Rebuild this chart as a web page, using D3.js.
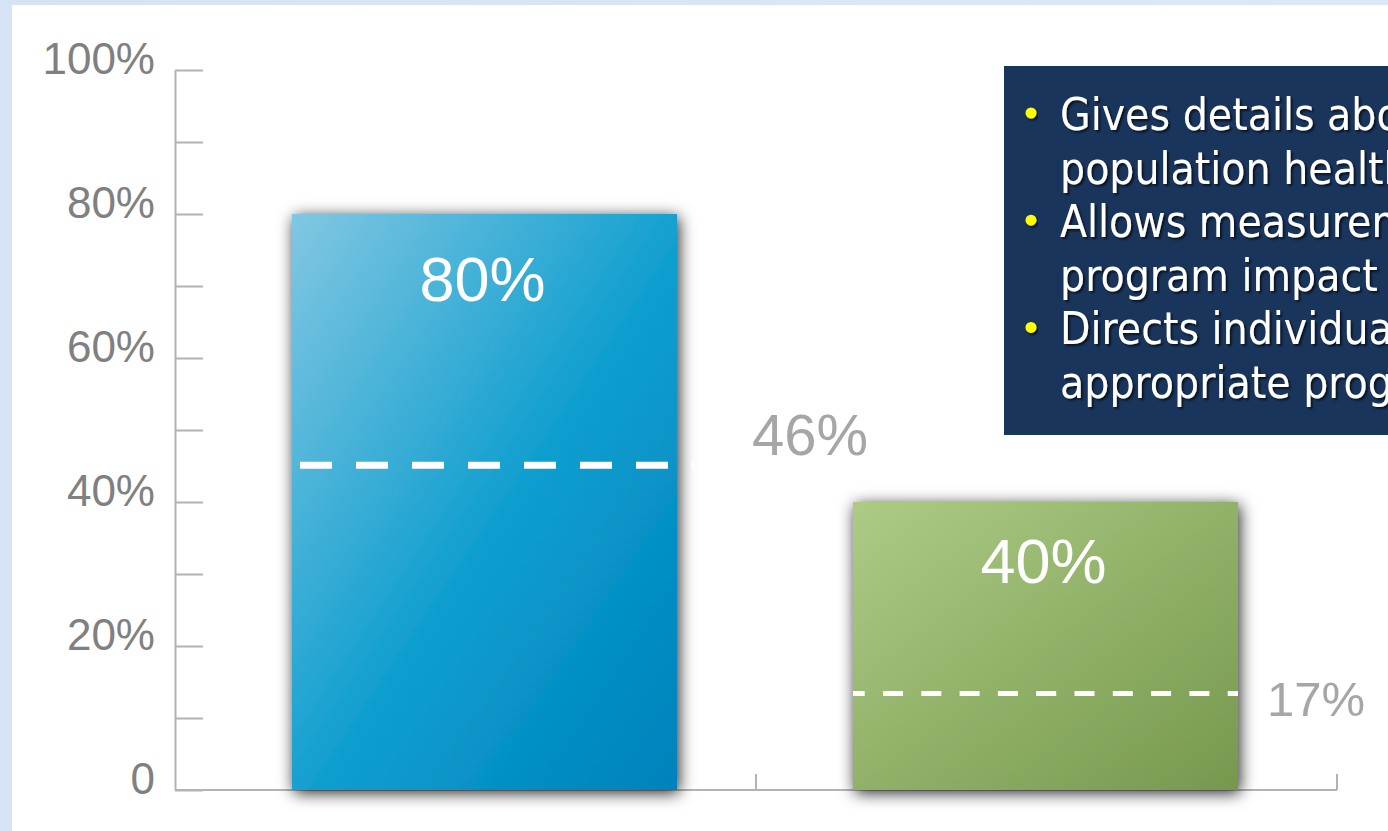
<!DOCTYPE html>
<html>
<head>
<meta charset="utf-8">
<script src="https://cdn.jsdelivr.net/npm/d3@7"></script>
<style>
  html, body { margin: 0; padding: 0; background: #ffffff; overflow: hidden; }
  svg { display: block; }
</style>
</head>
<body>
<svg id="chart" width="1388" height="831"></svg>
<script>
// ---- Data ----
const categories = ["Group A", "Group B"];
const barValues = [80, 40];
const barLabels = ["80%", "40%"];
const benchmarkLevels = [45.1, 13.4];      // dashed-line positions as drawn
const benchmarkLabels = ["46%", "17%"];
const yTickValues = [0, 10, 20, 30, 40, 50, 60, 70, 80, 90, 100];
const yTickLabels = {0: "0", 20: "20%", 40: "40%", 60: "60%", 80: "80%", 100: "100%"};
const bulletLines = [
  ["Gives details about", "population health"],
  ["Allows measurement of", "program impact"],
  ["Directs individuals to", "appropriate programs"]
];

// ---- Setup ----
const svg = d3.select("#chart");
const W = 1388, H = 831;
const defs = svg.append("defs");

// background
const bgGrad = defs.append("linearGradient").attr("id", "bgTop").attr("x1", 0).attr("x2", 1).attr("y1", 0).attr("y2", 0);
bgGrad.append("stop").attr("offset", "0%").attr("stop-color", "#d6e3f4");
bgGrad.append("stop").attr("offset", "100%").attr("stop-color", "#dde8f7");
svg.append("rect").attr("width", W).attr("height", H).attr("fill", "url(#bgTop)");
svg.append("rect").attr("x", 12).attr("y", 5).attr("width", W - 12).attr("height", H - 5).attr("fill", "#ffffff");

// gradients for bars
const g1 = defs.append("linearGradient").attr("id", "barBlue").attr("x1", 0).attr("y1", 0).attr("x2", 1).attr("y2", 1);
g1.append("stop").attr("offset", "0%").attr("stop-color", "#82c7e2");
g1.append("stop").attr("offset", "55%").attr("stop-color", "#0b9dce");
g1.append("stop").attr("offset", "100%").attr("stop-color", "#0082bb");
const g2 = defs.append("linearGradient").attr("id", "barGreen").attr("x1", 0).attr("y1", 0).attr("x2", 1).attr("y2", 1);
g2.append("stop").attr("offset", "0%").attr("stop-color", "#adcb85");
g2.append("stop").attr("offset", "100%").attr("stop-color", "#76984e");
const barFills = ["url(#barBlue)", "url(#barGreen)"];

// shadow filters
const sh = defs.append("filter").attr("id", "barShadow").attr("x", "-20%").attr("y", "-20%").attr("width", "140%").attr("height", "140%");
sh.append("feDropShadow").attr("dx", 2).attr("dy", 3).attr("stdDeviation", 8)
  .attr("flood-color", "#000").attr("flood-opacity", 0.85);
const tsh = defs.append("filter").attr("id", "textShadow").attr("x", "-10%").attr("y", "-20%").attr("width", "120%").attr("height", "160%");
tsh.append("feDropShadow").attr("dx", 2).attr("dy", 2).attr("stdDeviation", 1.2)
  .attr("flood-color", "#000").attr("flood-opacity", 0.65);

// ---- Scales ----
const y = d3.scaleLinear().domain([0, 100]).range([790, 70]);
const pIn = 1 - 385 / 561;
const xBar = d3.scaleBand().domain(categories).range([204, 1326]).paddingInner(pIn).paddingOuter(pIn / 2);
const xAxisBand = d3.scaleBand().domain(categories).range([175, 1337]).padding(0);

// ---- Y axis ----
const yAxis = d3.axisLeft(y)
  .tickValues(yTickValues)
  .tickSizeInner(-28)
  .tickSizeOuter(0)
  .tickPadding(20)
  .tickFormat(d => yTickLabels[d] !== undefined ? yTickLabels[d] : "");
const yG = svg.append("g").attr("transform", "translate(175,0)").call(yAxis);
yG.select(".domain").attr("stroke", "#b3b3b3").attr("stroke-width", 2);
yG.selectAll(".tick line").attr("stroke", "#b3b3b3").attr("stroke-width", 2);
yG.selectAll(".tick text")
  .attr("fill", "#808080")
  .attr("font-family", "'Liberation Sans', Arial, sans-serif")
  .attr("font-size", 44)
  .attr("dy", "0.08em");

// ---- X axis (baseline + band separators) ----
const xG = svg.append("g");
xG.append("line")
  .attr("x1", xAxisBand.range()[0]).attr("x2", xAxisBand.range()[1])
  .attr("y1", y(0)).attr("y2", y(0))
  .attr("stroke", "#b3b3b3").attr("stroke-width", 2);
xG.selectAll("line.sep").data(categories).join("line").attr("class", "sep")
  .attr("x1", d => xAxisBand(d) + xAxisBand.bandwidth())
  .attr("x2", d => xAxisBand(d) + xAxisBand.bandwidth())
  .attr("y1", y(0) - 16).attr("y2", y(0))
  .attr("stroke", "#b3b3b3").attr("stroke-width", 2);

// ---- Bars ----
svg.selectAll("rect.bar").data(categories).join("rect").attr("class", "bar")
  .attr("x", d => xBar(d))
  .attr("y", (d, i) => y(barValues[i]))
  .attr("width", xBar.bandwidth())
  .attr("height", (d, i) => y(0) - y(barValues[i]))
  .attr("fill", (d, i) => barFills[i])
  .attr("filter", "url(#barShadow)");

// bar value labels
const barLabelDy = [87, 81];
svg.selectAll("text.barlabel").data(categories).join("text").attr("class", "barlabel")
  .attr("x", (d, i) => xBar(d) + xBar.bandwidth() / 2 - 2)
  .attr("y", (d, i) => y(barValues[i]) + barLabelDy[i])
  .attr("text-anchor", "middle")
  .attr("fill", "#ffffff")
  .attr("font-family", "'Liberation Sans', Arial, sans-serif")
  .attr("font-size", 63)
  .text((d, i) => barLabels[i]);

// ---- Benchmark dashed lines ----
const dashSpec = [
  {x0: 8, x1: 17, w: 7, dash: "32,24", off: 0},
  {x0: 0, x1: 0, w: 5, dash: "20,18.3", off: 8.3}
];
svg.selectAll("line.bench").data(categories).join("line").attr("class", "bench")
  .attr("x1", (d, i) => xBar(d) + dashSpec[i].x0)
  .attr("x2", (d, i) => xBar(d) + xBar.bandwidth() + dashSpec[i].x1)
  .attr("y1", (d, i) => y(benchmarkLevels[i]))
  .attr("y2", (d, i) => y(benchmarkLevels[i]))
  .attr("stroke", "#ffffff")
  .attr("stroke-width", (d, i) => dashSpec[i].w)
  .attr("stroke-dasharray", (d, i) => dashSpec[i].dash)
  .attr("stroke-dashoffset", (d, i) => dashSpec[i].off);

const benchLabelSpec = [
  {dx: 75, dy: -10, size: 58},
  {dx: 29, dy: 22, size: 49}
];
svg.selectAll("text.benchlabel").data(categories).join("text").attr("class", "benchlabel")
  .attr("x", (d, i) => xBar(d) + xBar.bandwidth() + benchLabelSpec[i].dx)
  .attr("y", (d, i) => y(benchmarkLevels[i]) + benchLabelSpec[i].dy)
  .attr("fill", "#a6a6a6")
  .attr("font-family", "'Liberation Sans', Arial, sans-serif")
  .attr("font-size", (d, i) => benchLabelSpec[i].size)
  .text((d, i) => benchmarkLabels[i]);

// ---- Info box (runs off the right edge, as in the source slide) ----
defs.append("clipPath").attr("id", "boxClip")
  .append("rect").attr("x", 1004).attr("y", 66).attr("width", W - 1004).attr("height", 369);
const box = svg.append("g").attr("clip-path", "url(#boxClip)");
box.append("rect").attr("x", 1004).attr("y", 66).attr("width", W - 1004).attr("height", 369).attr("fill", "#1a355c");
const lineH = 53.6;
let li = 0;
bulletLines.forEach((lines, bi) => {
  const baseY = 130 + li * lineH;
  box.append("circle").attr("cx", 1031).attr("cy", baseY - 17).attr("r", 5.5)
    .attr("fill", "#ffff00").attr("filter", "url(#textShadow)");
  lines.forEach((t, k) => {
    box.append("text")
      .attr("x", 1060).attr("y", 130 + (li + k) * lineH)
      .attr("fill", "#ffffff")
      .attr("font-family", "'DejaVu Sans Condensed', 'DejaVu Sans', sans-serif")
      .attr("font-stretch", "condensed")
      .attr("font-size", 44)
      .attr("filter", "url(#textShadow)")
      .text(t);
  });
  li += lines.length;
});
</script>
</body>
</html>
